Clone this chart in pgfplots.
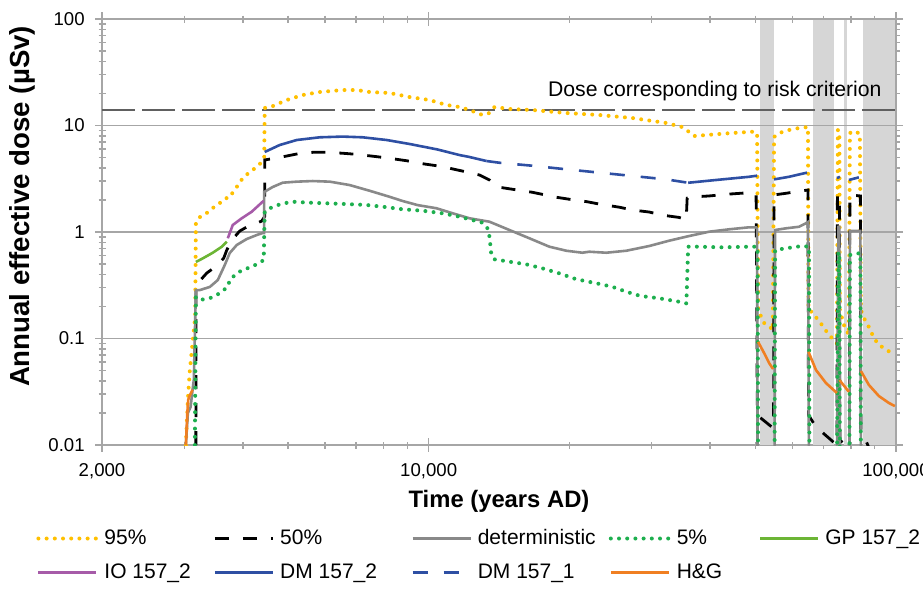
\documentclass[border=0pt]{standalone}
\usepackage{pgfplots}
\pgfplotsset{compat=1.18}
\usepackage{fontspec}
\setmainfont{Liberation Sans}
\definecolor{c95}{HTML}{FFC000}
\definecolor{cdet}{HTML}{898989}
\definecolor{c5}{HTML}{1DAF4E}
\definecolor{cgp}{HTML}{6CB535}
\definecolor{cio}{HTML}{A65BA8}
\definecolor{cdm}{HTML}{2E4FA3}
\definecolor{chg}{HTML}{F07F22}
\definecolor{cband}{HTML}{D6D6D6}
\definecolor{cgrid}{HTML}{A6A6A6}
\definecolor{crisk}{HTML}{606060}
\tikzset{
  dotline/.style={line width=2pt, dash pattern=on 0pt off 4.1pt, line cap=round},
  dashline/.style={line width=1.4pt, dash pattern=on 7pt off 7pt},
  solidline/.style={line width=1.3pt},
}
\begin{document}
\begin{tikzpicture}
\useasboundingbox (-51pt,-72.5pt) rectangle (410.5pt,222.5pt);
\begin{axis}[
  at={(0,0)}, anchor=south west, scale only axis,
  width=397pt, height=213pt,
  xmode=log, ymode=log,
  xmin=2000, xmax=100000, ymin=0.01, ymax=100,
  axis line style={draw=cgrid, line width=0.8pt},
  xtick={2000,10000,100000},
  xticklabels={{2,000},{10,000},{100,000}},
  minor xtick={3000,4000,5000,6000,7000,8000,9000,20000,30000,40000,50000,60000,70000,80000,90000},
  ytick={0.01,0.1,1,10,100},
  yticklabels={0.01,0.1,1,10,100},
  minor ytick={0.02,0.03,0.04,0.05,0.06,0.07,0.08,0.09,0.2,0.3,0.4,0.5,0.6,0.7,0.8,0.9,2,3,4,5,6,7,8,9,20,30,40,50,60,70,80,90},
  tick style={draw=cgrid, line width=0.8pt},
  xtick align=center, ytick align=center,
  major tick length=7pt, minor tick length=3.5pt,
  /pgf/number format/assume math mode=true,
  tick label style={font=\fontsize{9.3}{11}\selectfont},
  xticklabel style={anchor=base, yshift=-12.5pt},
  yticklabel style={anchor=east, inner sep=0pt, xshift=-5pt},
  xlabel={Time (years AD)},
  xlabel style={at={(axis description cs:0.5,0)}, anchor=center, yshift=-28pt, font=\bfseries\fontsize{11.9}{13}\selectfont},
  ylabel={Annual effective dose (µSv)},
  ylabel style={at={(axis description cs:-0.1008,0.56)}, anchor=center, font=\bfseries\fontsize{13.8}{15}\selectfont},
  unbounded coords=jump,
  legend columns=5,
  legend cell align=left,
  legend image code/.code={\draw[#1] (0pt,0pt) -- (29pt,0pt);},
  legend style={at={(0,0)}, anchor=north west, xshift=-33pt, yshift=-40pt,
    draw=none, fill=none, font=\fontsize{10.5}{12}\selectfont,
    inner sep=0pt, row sep=4pt,
    /tikz/every odd column/.append style={column sep=1pt},
    /tikz/every even column/.append style={column sep=0pt}},
]
% glaciation bands
\addplot[draw=none, fill=cband, forget plot] coordinates {(51186,0.01) (51186,100) (54834,100) (54834,0.01)} -- cycle;
\addplot[draw=none, fill=cband, forget plot] coordinates {(66424,0.01) (66424,100) (73650,100) (73650,0.01)} -- cycle;
\addplot[draw=none, fill=cband, forget plot] coordinates {(77362,0.01) (77362,100) (78512,100) (78512,0.01)} -- cycle;
\addplot[draw=none, fill=cband, forget plot] coordinates {(84938,0.01) (84938,100) (100000,100) (100000,0.01)} -- cycle;
% grid lines
\addplot[cgrid, line width=0.8pt, forget plot] coordinates {(2000,0.1) (100000,0.1)};
\addplot[cgrid, line width=0.8pt, forget plot] coordinates {(2000,1) (100000,1)};
\addplot[cgrid, line width=0.8pt, forget plot] coordinates {(2000,10) (100000,10)};
\addplot[cgrid, line width=0.8pt, forget plot] coordinates {(2000,100) (100000,100)};
\addplot[cgrid, line width=0.8pt, forget plot] coordinates {(100000,0.01) (100000,100)};
% risk criterion
\addplot[crisk, line width=0.8pt, dash pattern=on 16.5pt off 3.5pt, forget plot] coordinates {(2000,14) (100000,14)};
\node[anchor=base east, inner sep=0pt, font=\fontsize{10.6}{12}\selectfont] at (axis cs:93320,18.6) {Dose corresponding to risk criterion};

% 95%
\addplot[c95, dotline] coordinates {
(3023,0.010) (3053,0.0265) (3083,0.0506) (3114,0.078) (3144,0.120) (3165,0.16) (3176,1.21)
(3239,1.38) (3352,1.51) (3452,1.68) (3573,1.87) (3680,2.08) (3735,2.08) (3885,2.65) (4001,3.21)
(4141,3.66) (4287,4.08) (4393,4.54) (4447,5.06) (4458,14.6) (4637,15.2) (4968,17.35) (5376,19.34)
(5846,20.63) (6546,21.54) (7012,21.54) (7475,20.63) (8251,20.2) (9104,18.5) (10045,17.35)
(10920,15.58) (11643,14.92) (12229,13.98) (13037,12.55) (13493,13.1) (13829,14.92) (14888,14.29)
(16670,13.98) (19707,13.10) (23181,12.55) (27267,11.76) (32237,10.56) (34862,9.68) (36094,8.69)
(36994,7.97) (39240,8.14) (44600,8.50) (49700,8.76) (50436,8.50) (50685,0.185) (52202,0.140)
(53760,0.128) (54500,0.120) (54834,7.80) (56200,8.50) (59036,9.07) (62002,9.47) (64810,9.68)
(64970,0.185) (66100,0.177) (69440,0.134) (71862,0.108) (73650,0.097) (74744,0.090) (75112,9.07)
(75670,8.88) (75854,0.185) (77362,0.134) (79288,0.108) (79680,8.50) (81660,8.88) (83692,8.32)
(84106,0.185) (85356,0.156) (87510,0.128) (89688,0.101) (91920,0.0869) (94208,0.0814) (97040,0.0747)
};
\addlegendentry{\makebox[52.5pt][l]{95\%}}
% 50%
\addplot[black, dashline] coordinates {
(3176,0.01) (3179,0.318) (3352,0.412) (3538,0.49) (3644,0.570) (3699,0.6775) (3791,0.841)
(3943,1.022) (4081,1.114) (4244,1.189) (4393,1.268) (4458,1.40) (4460,4.75) (4847,5.06)
(5220,5.40) (5648,5.6) (6052,5.6) (6546,5.49) (7012,5.36) (7737,5.10) (8251,4.92) (8971,4.67)
(9562,4.42) (10397,4.19) (11083,3.97) (12229,3.61) (12846,3.43) (13493,3.08) (13966,2.66)
(14669,2.57) (16670,2.36) (18761,2.12) (20000,2.03) (21746,1.93) (23181,1.83) (25576,1.71)
(27267,1.61) (29652,1.54) (31608,1.44) (34364,1.37) (35566,1.30) (35740,2.08) (36994,2.14)
(39826,2.18) (43300,2.26) (48490,2.34) (50190,2.27) (50500,0.019) (54298,0.0147) (54700,0.0145)
(54834,2.23) (58170,2.31) (61100,2.39) (64810,2.48) (64970,0.0191) (67412,0.0148) (71862,0.0116)
(74300,0.0102) (74744,0.0102) (74930,2.23) (75670,2.23) (75854,0.0111) (78512,0.0098)
(79480,0.0097) (79680,2.23) (83900,2.18) (84106,0.0138) (85780,0.0116) (87510,0.0094)
};
\addlegendentry{\makebox[63.5pt][l]{50\%}}
% deterministic
\addplot[cdet, solidline] coordinates {
(3023,0.01) (3053,0.0200) (3094,0.0227) (3124,0.0328) (3144,0.0409) (3176,0.285) (3239,0.285)
(3402,0.305) (3538,0.354) (3662,0.49) (3753,0.635) (3885,0.755) (4081,0.860) (4287,0.937)
(4416,0.979) (4443,0.979) (4447,2.375) (4637,2.646) (4871,2.904) (5220,2.97) (5648,3.01)
(6142,2.97) (6775,2.76) (7475,2.44) (8251,2.14) (8796,1.955) (9468,1.79) (10397,1.67)
(11247,1.50) (12229,1.345) (13493,1.249) (14888,1.044) (16426,0.873) (18123,0.728) (19707,0.667)
(21321,0.639) (22068,0.653) (23993,0.639) (26471,0.667) (29652,0.739) (32717,0.829) (36094,0.917)
(39826,1.0065) (43948,1.06) (48490,1.107) (50190,1.107) (50436,1.067) (50560,0.005) (54970,0.005)
(55104,1.044) (58170,1.083) (62002,1.12) (64492,1.223) (64810,1.241) (65130,0.005) (74744,0.005)
(75300,1.114) (75670,1.114) (75854,0.005) (79480,0.005) (79680,1.022) (83900,1.022) (84106,0.005)
};
\addlegendentry{\makebox[63.5pt][l]{deterministic}}
% 5%
\addplot[c5, dotline] coordinates {
(3160,0.01) (3176,0.245) (3239,0.230) (3402,0.239) (3521,0.256) (3627,0.281) (3717,0.306)
(3753,0.354) (3885,0.41) (4001,0.44) (4182,0.472) (4350,0.515) (4436,0.546) (4458,1.55)
(4569,1.67) (4753,1.79) (4968,1.88) (5117,1.925) (5565,1.885) (6052,1.86) (6676,1.83)
(7365,1.793) (7972,1.728) (8796,1.634) (9705,1.585) (10710,1.498) (11643,1.392) (12229,1.316)
(13037,1.223) (13360,1.083) (13493,0.904) (13606,0.631) (13829,0.554) (14888,0.526) (16185,0.497)
(17509,0.456) (19039,0.409) (20700,0.360) (22840,0.330) (24710,0.306) (26471,0.275) (28368,0.251)
(31144,0.2385) (34364,0.2214) (35600,0.2137) (35918,0.728) (37914,0.728) (42462,0.718)
(48490,0.728) (49942,0.728) (50560,0.723) (50685,0.005) (54970,0.005) (55104,0.6775)
(58170,0.703) (62924,0.739) (65130,0.728) (65290,0.005) (74744,0.005) (75300,0.65) (75670,0.61)
(75854,0.005) (79480,0.005) (79680,0.608) (83900,0.635) (84106,0.005)
};
\addlegendentry{\makebox[39pt][l]{5\%}}
% GP 157_2
\addplot[cgp, solidline] coordinates {
(3176,0.523) (3287,0.566) (3452,0.639) (3609,0.728) (3699,0.811)
};
\addlegendentry{\makebox[46pt][l]{GP 157\_2}}
% IO 157_2
\addplot[cio, solidline] coordinates {
(3717,0.873) (3809,1.163) (3982,1.345) (4182,1.551) (4436,1.966)
};
\addlegendentry{\makebox[52.5pt][l]{IO 157\_2}}
% DM 157_2
\addplot[cdm, solidline] coordinates {
(4458,5.64) (4800,6.56) (5220,7.31) (5846,7.75) (6546,7.87) (7224,7.75) (8130,7.31)
(9104,6.705) (10397,5.98) (11643,5.28) (12229,5.06) (13295,4.64) (13300,nan)
(35918,2.90) (41220,3.08) (48490,3.30) (50436,3.38) (50500,nan)
(54834,3.12) (59036,3.30) (64492,3.61)
};
\addlegendentry{\makebox[63.5pt][l]{DM 157\_2}}
% DM 157_1
\addplot[cdm, line width=1.3pt, dash pattern=on 7.5pt off 8pt] coordinates {
(13295,4.64) (14172,4.47) (16670,4.19) (19707,3.88) (23181,3.61) (27267,3.36) (32237,3.12)
(35918,2.90) (36000,nan) (74744,3.21) (75854,3.30) (76000,nan) (79288,3.08) (83282,3.26)
};
\addlegendentry{\makebox[63.5pt][l]{DM 157\_1}}
% H&G
\addplot[chg, solidline] coordinates {
(3023,0.01) (3045,0.02) (3058,0.0265) (3080,0.029) (3124,0.033) (3130,nan)
(50685,0.093) (52202,0.0731) (53501,0.0589) (54580,0.0517) (54600,nan)
(64970,0.075) (67412,0.0506) (70810,0.0382) (74744,0.0308) (74800,nan)
(75670,0.0408) (79288,0.0316) (79400,nan)
(84106,0.0495) (87510,0.0366) (91920,0.0288) (96554,0.0248) (99448,0.0232)
};
\addlegendentry{\makebox[39pt][l]{H\&G}}
\end{axis}
\end{tikzpicture}
\end{document}
